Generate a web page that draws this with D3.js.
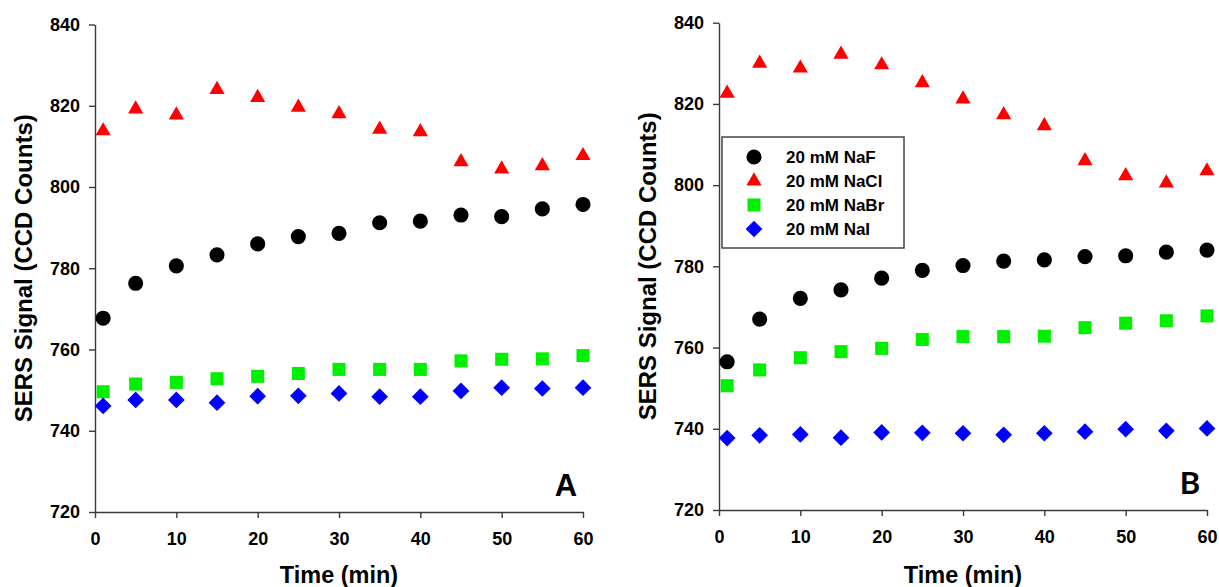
<!DOCTYPE html>
<html>
<head>
<meta charset="utf-8">
<script src="https://cdn.jsdelivr.net/npm/d3@7"></script>
<style>
	body { margin: 0; background: #fff; }
	text { font-family: "Liberation Sans", Arial, sans-serif; font-weight: bold; fill: #000; }
	.axis path, .axis line { stroke: #3a3a3a; stroke-width: 1.4px; }
	.axis text { font-size: 18px; }
</style>
</head>
<body>
<script>

var times = [1, 5, 10, 15, 20, 25, 30, 35, 40, 45, 50, 55, 60];
var xTicks = [0, 10, 20, 30, 40, 50, 60];
var yTicks = [720, 740, 760, 780, 800, 820, 840];
var saltNames = ['20 mM NaF', '20 mM NaCl', '20 mM NaBr', '20 mM NaI'];

// panel A
var nafA  = [767.7, 776.3, 780.6, 783.3, 786.0, 787.8, 788.6, 791.2, 791.6, 793.1, 792.7, 794.6, 795.7];
var naclA = [813.8, 819.2, 817.7, 824.0, 822.0, 819.6, 818.0, 814.2, 813.6, 806.2, 804.4, 805.2, 807.7];
var nabrA = [749.6, 751.5, 751.9, 752.8, 753.4, 754.1, 755.1, 755.1, 755.1, 757.2, 757.6, 757.7, 758.5];
var naiA  = [746.1, 747.6, 747.6, 746.9, 748.5, 748.6, 749.2, 748.4, 748.4, 749.8, 750.6, 750.4, 750.6];

// panel B
var nafB  = [756.5, 767.0, 772.1, 774.2, 777.1, 779.0, 780.2, 781.3, 781.6, 782.4, 782.6, 783.5, 784.0];
var naclB = [822.6, 830.0, 828.8, 832.2, 829.6, 825.2, 821.2, 817.3, 814.6, 806.0, 802.3, 800.5, 803.5];
var nabrB = [750.6, 754.5, 757.5, 759.0, 759.8, 762.0, 762.7, 762.7, 762.8, 764.9, 766.0, 766.6, 767.8];
var naiB  = [737.7, 738.4, 738.6, 737.8, 739.1, 739.0, 738.9, 738.5, 738.9, 739.3, 739.9, 739.5, 740.1];

var colors = ['#000000', '#ff0000', '#00f000', '#0000ff'];
var shapes = [
	d3.symbol().type(d3.symbolCircle).size(180),
	d3.symbol().type(d3.symbolTriangle).size(100),
	d3.symbol().type(d3.symbolSquare).size(170),
	d3.symbol().type(d3.symbolSquare).size(140)
];
var rotations = [0, 0, 0, 45];

var svg = d3.select('body').append('svg')
		.attr('width', 1219)
		.attr('height', 587);


function drawPanel(series, left, right, top, bottom, letter, letterFont, letterX) {

	var x = d3.scaleLinear().domain([0, 60]).range([left, right]),
		y = d3.scaleLinear().domain([720, 840]).range([bottom, top]);

	var g = svg.append('g');

	g.append('g')
		.attr('class', 'axis')
		.attr('transform', 'translate(0,' + bottom + ')')
		.call(d3.axisBottom(x).tickValues(xTicks).tickSize(6).tickSizeOuter(0).tickPadding(14));

	g.append('g')
		.attr('class', 'axis')
		.attr('transform', 'translate(' + left + ',0)')
		.call(d3.axisLeft(y).tickValues(yTicks).tickSize(6).tickSizeOuter(0).tickPadding(9));

	g.selectAll('.axis .domain').style('fill', 'none');

	series.forEach(function(vals, k) {
		g.selectAll('.s' + k)
			.data(vals)
			.enter().append('path')
				.attr('class', 's' + k)
				.attr('d', shapes[k])
				.attr('transform', function(d, i) {
					return 'translate(' + x(times[i]) + ',' + y(d) + ') rotate(' + rotations[k] + ')';
				})
				.style('fill', colors[k]);
	});

	g.append('text')
		.attr('transform', 'rotate(-90)')
		.attr('x', -(top + bottom) / 2)
		.attr('y', left - 63)
		.style('text-anchor', 'middle')
		.style('font-size', '24px')
		.text('SERS Signal (CCD Counts)');

	g.append('text')
		.attr('x', (left + right) / 2)
		.attr('y', 583)
		.style('text-anchor', 'middle')
		.style('font-size', '23.5px')
		.text('Time (min)');

	g.append('text')
		.attr('x', letterX)
		.attr('y', bottom - 16)
		.style('text-anchor', 'middle')
		.style('font-family', letterFont)
		.style('font-size', '31px')
		.text(letter);
}

drawPanel([nafA, naclA, nabrA, naiA], 95, 583, 24.5, 512, 'A', '"Liberation Sans", Arial, sans-serif', 566);
drawPanel([nafB, naclB, nabrB, naiB], 719, 1207, 22.7, 510, 'B', 'Lato, "Open Sans", sans-serif', 1190);


// legend in panel B
var legend = svg.append('g')
		.attr('transform', 'translate(722,137)');

legend.append('rect')
	.attr('width', 182)
	.attr('height', 111)
	.style('fill', '#fff')
	.style('stroke', '#444')
	.style('stroke-width', 1.5);

saltNames.forEach(function(name, k) {
	legend.append('path')
		.attr('d', shapes[k])
		.attr('transform', 'translate(32,' + (20 + k * 24) + ') rotate(' + rotations[k] + ')')
		.style('fill', colors[k]);

	legend.append('text')
		.attr('x', 64)
		.attr('y', 20 + k * 24)
		.attr('dy', '0.36em')
		.style('font-size', '17px')
		.text(name);
});

</script>
</body>
</html>
